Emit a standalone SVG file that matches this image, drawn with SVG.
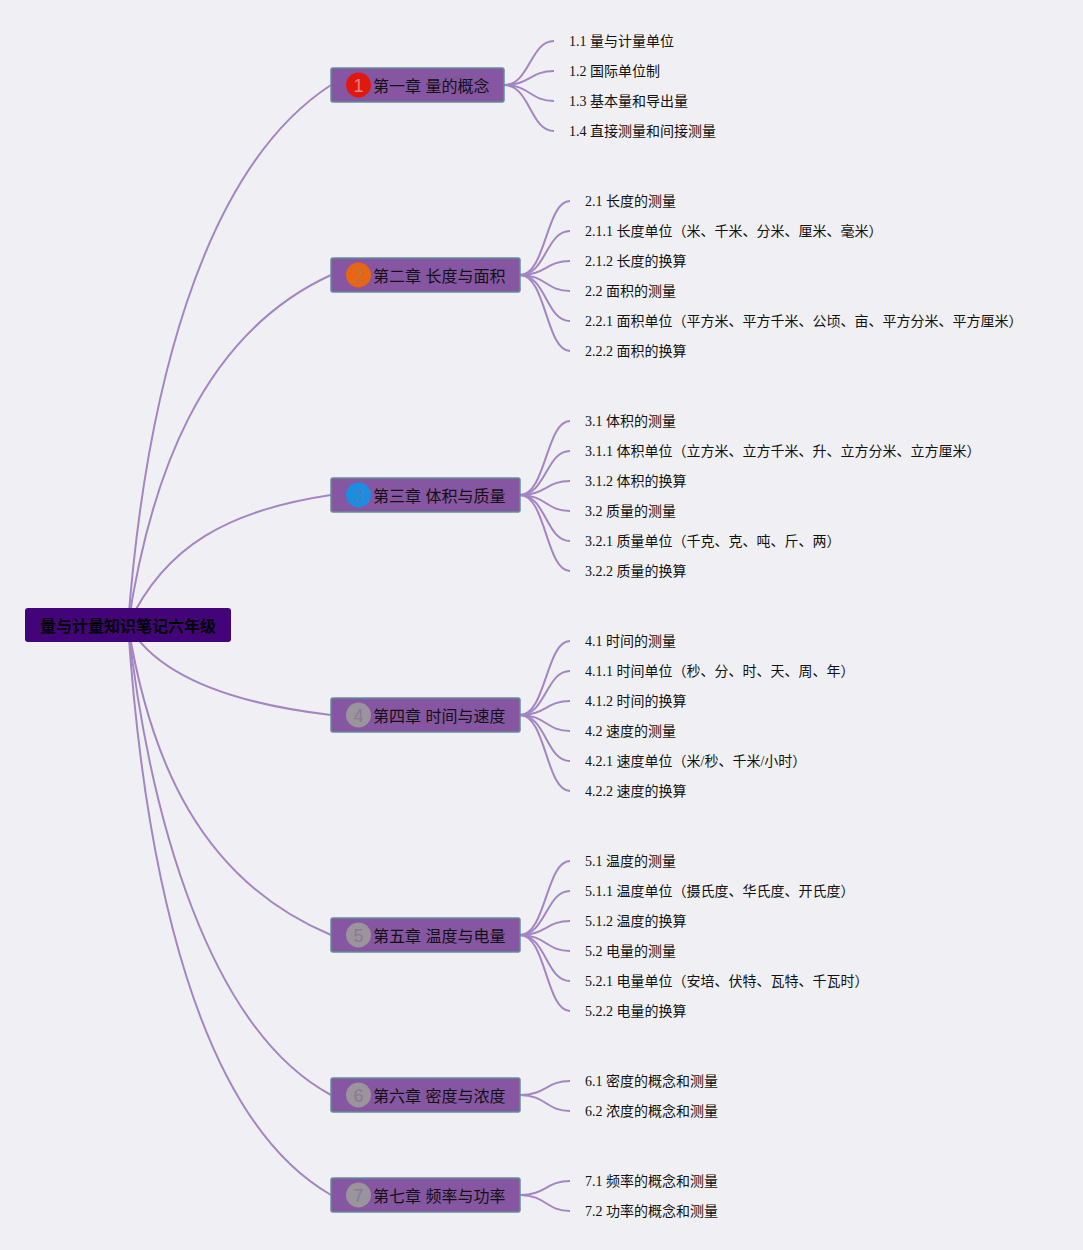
<svg xmlns="http://www.w3.org/2000/svg" width="1083" height="1250" viewBox="0 0 1083 1250">
<style>
text{font-family:"Liberation Serif","Noto Sans CJK SC",serif;fill:#111}
.l{font-size:14px}
.c{font-size:16px;font-family:"Liberation Sans","Noto Sans CJK SC",sans-serif}
.r{font-size:16px;font-weight:bold;font-family:"Liberation Sans","Noto Sans CJK SC",sans-serif;fill:#000}
.box{fill:#8756a2;stroke:#5f9098;stroke-width:1.5}
.n{font-size:18px;font-family:"Liberation Sans",sans-serif;text-anchor:middle}
#connectors path{fill:none;stroke:#a385c4;stroke-width:2}
</style>
<rect width="1083" height="1250" fill="#f0f0f4"/>
<g id="connectors">
<path d="M128 625C145 400 200 170 331 85"/>
<path d="M128 625C150 480 200 335 331 275"/>
<path d="M128 625C165 545 230 510 331 495"/>
<path d="M128 625C155 672 220 702 331 715"/>
<path d="M128 625C150 760 200 880 331 935"/>
<path d="M128 625C150 820 210 1030 331 1095"/>
<path d="M128 625C145 880 200 1120 331 1195"/>
<path d="M504 85C530 85 530 41 554 41"/><path d="M504 85C530 85 530 71 554 71"/><path d="M504 85C530 85 530 101 554 101"/><path d="M504 85C530 85 530 131 554 131"/>
<path d="M520 275C546 275 546 201 570 201"/><path d="M520 275C546 275 546 231 570 231"/><path d="M520 275C546 275 546 261 570 261"/><path d="M520 275C546 275 546 291 570 291"/><path d="M520 275C546 275 546 321 570 321"/><path d="M520 275C546 275 546 351 570 351"/>
<path d="M520 495C546 495 546 421 570 421"/><path d="M520 495C546 495 546 451 570 451"/><path d="M520 495C546 495 546 481 570 481"/><path d="M520 495C546 495 546 511 570 511"/><path d="M520 495C546 495 546 541 570 541"/><path d="M520 495C546 495 546 571 570 571"/>
<path d="M520 715C546 715 546 641 570 641"/><path d="M520 715C546 715 546 671 570 671"/><path d="M520 715C546 715 546 701 570 701"/><path d="M520 715C546 715 546 731 570 731"/><path d="M520 715C546 715 546 761 570 761"/><path d="M520 715C546 715 546 791 570 791"/>
<path d="M520 935C546 935 546 861 570 861"/><path d="M520 935C546 935 546 891 570 891"/><path d="M520 935C546 935 546 921 570 921"/><path d="M520 935C546 935 546 951 570 951"/><path d="M520 935C546 935 546 981 570 981"/><path d="M520 935C546 935 546 1011 570 1011"/>
<path d="M520 1095C546 1095 546 1081 570 1081"/><path d="M520 1095C546 1095 546 1111 570 1111"/>
<path d="M520 1195C546 1195 546 1181 570 1181"/><path d="M520 1195C546 1195 546 1211 570 1211"/>
</g>
<g id="root"><rect x="25" y="608" width="206" height="34" rx="3" fill="#43047a"/><text class="r" x="40" y="632">量与计量知识笔记六年级</text></g>
<g id="ch1"><rect class="box" x="331" y="68" width="173" height="34" rx="2"/><circle cx="358.500" cy="85" r="12.500" fill="#e0190f"/><text class="n" x="358.500" y="91.500" style="fill:#e8827c">1</text><text class="c" x="373" y="92">第一章 量的概念</text></g>
<g id="ch2"><rect class="box" x="331" y="258" width="189" height="34" rx="2"/><circle cx="358.500" cy="275" r="12.500" fill="#e8660f"/><text class="n" x="358.500" y="281.500" style="fill:#b8764a">2</text><text class="c" x="373" y="282">第二章 长度与面积</text></g>
<g id="ch3"><rect class="box" x="331" y="478" width="189" height="34" rx="2"/><circle cx="358.500" cy="495" r="12.500" fill="#1a8ee0"/><text class="n" x="358.500" y="501.500" style="fill:#4a7dbd">3</text><text class="c" x="373" y="502">第三章 体积与质量</text></g>
<g id="ch4"><rect class="box" x="331" y="698" width="189" height="34" rx="2"/><circle cx="358.500" cy="715" r="12.500" fill="#9a949c"/><text class="n" x="358.500" y="721.500" style="fill:#8a7a92">4</text><text class="c" x="373" y="722">第四章 时间与速度</text></g>
<g id="ch5"><rect class="box" x="331" y="918" width="189" height="34" rx="2"/><circle cx="358.500" cy="935" r="12.500" fill="#9a949c"/><text class="n" x="358.500" y="941.500" style="fill:#8a7a92">5</text><text class="c" x="373" y="942">第五章 温度与电量</text></g>
<g id="ch6"><rect class="box" x="331" y="1078" width="189" height="34" rx="2"/><circle cx="358.500" cy="1095" r="12.500" fill="#9a949c"/><text class="n" x="358.500" y="1101.500" style="fill:#8a7a92">6</text><text class="c" x="373" y="1102">第六章 密度与浓度</text></g>
<g id="ch7"><rect class="box" x="331" y="1178" width="189" height="34" rx="2"/><circle cx="358.500" cy="1195" r="12.500" fill="#9a949c"/><text class="n" x="358.500" y="1201.500" style="fill:#8a7a92">7</text><text class="c" x="373" y="1202">第七章 频率与功率</text></g>
<g id="leaves1">
<text class="l" x="569" y="46">1.1 量与计量单位</text><text class="l" x="569" y="76">1.2 国际单位制</text><text class="l" x="569" y="106">1.3 基本量和导出量</text><text class="l" x="569" y="136">1.4 直接测量和间接测量</text></g>
<g id="leaves2">
<text class="l" x="585" y="206">2.1 长度的测量</text><text class="l" x="585" y="236">2.1.1 长度单位（米、千米、分米、厘米、毫米）</text><text class="l" x="585" y="266">2.1.2 长度的换算</text><text class="l" x="585" y="296">2.2 面积的测量</text><text class="l" x="585" y="326">2.2.1 面积单位（平方米、平方千米、公顷、亩、平方分米、平方厘米）</text><text class="l" x="585" y="356">2.2.2 面积的换算</text></g>
<g id="leaves3">
<text class="l" x="585" y="426">3.1 体积的测量</text><text class="l" x="585" y="456">3.1.1 体积单位（立方米、立方千米、升、立方分米、立方厘米）</text><text class="l" x="585" y="486">3.1.2 体积的换算</text><text class="l" x="585" y="516">3.2 质量的测量</text><text class="l" x="585" y="546">3.2.1 质量单位（千克、克、吨、斤、两）</text><text class="l" x="585" y="576">3.2.2 质量的换算</text></g>
<g id="leaves4">
<text class="l" x="585" y="646">4.1 时间的测量</text><text class="l" x="585" y="676">4.1.1 时间单位（秒、分、时、天、周、年）</text><text class="l" x="585" y="706">4.1.2 时间的换算</text><text class="l" x="585" y="736">4.2 速度的测量</text><text class="l" x="585" y="766">4.2.1 速度单位（米/秒、千米/小时）</text><text class="l" x="585" y="796">4.2.2 速度的换算</text></g>
<g id="leaves5">
<text class="l" x="585" y="866">5.1 温度的测量</text><text class="l" x="585" y="896">5.1.1 温度单位（摄氏度、华氏度、开氏度）</text><text class="l" x="585" y="926">5.1.2 温度的换算</text><text class="l" x="585" y="956">5.2 电量的测量</text><text class="l" x="585" y="986">5.2.1 电量单位（安培、伏特、瓦特、千瓦时）</text><text class="l" x="585" y="1016">5.2.2 电量的换算</text></g>
<g id="leaves6">
<text class="l" x="585" y="1086">6.1 密度的概念和测量</text><text class="l" x="585" y="1116">6.2 浓度的概念和测量</text></g>
<g id="leaves7">
<text class="l" x="585" y="1186">7.1 频率的概念和测量</text><text class="l" x="585" y="1216">7.2 功率的概念和测量</text></g>
</svg>
